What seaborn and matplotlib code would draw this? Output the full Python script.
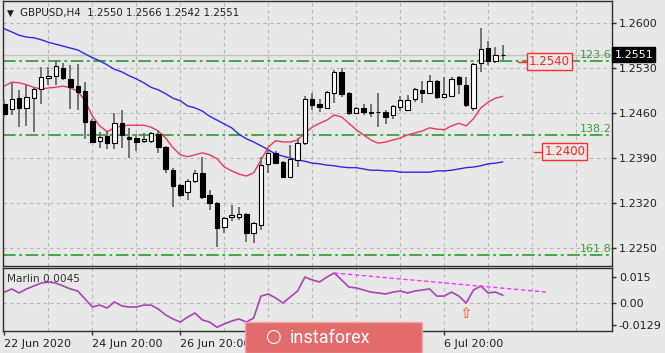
import numpy as np
import pandas as pd
import seaborn as sns
import matplotlib.pyplot as plt
from matplotlib.patches import Rectangle
from matplotlib.transforms import blended_transform_factory

sns.set_theme(style="white")
plt.rcParams['font.family'] = ['DejaVu Sans']

# GBPUSD H4 candles
opens = [1.2474, 1.2466, 1.2483, 1.2468, 1.2483, 1.2497, 1.2514, 1.2518, 1.2530, 1.2513,
         1.2502, 1.2494, 1.2448, 1.2417, 1.2424, 1.2413, 1.2444, 1.2423, 1.2421, 1.2417,
         1.2417, 1.2427, 1.2407, 1.2371, 1.2348, 1.2337, 1.2354, 1.2367, 1.2333, 1.2320,
         1.2283, 1.2298, 1.2298, 1.2303, 1.2273, 1.2286, 1.2381, 1.2398, 1.2384, 1.2361,
         1.2387, 1.2413, 1.2482, 1.2474, 1.2468, 1.2491, 1.2524, 1.2491, 1.2460, 1.2468,
         1.2462, 1.2462, 1.2462, 1.2457, 1.2469, 1.2465, 1.2482, 1.2496, 1.2491, 1.2510,
         1.2485, 1.2486, 1.2516, 1.2504, 1.2468, 1.2538, 1.2561, 1.2541, 1.2550]
highs = [1.2480, 1.2507, 1.2496, 1.2504, 1.2499, 1.2532, 1.2532, 1.2542, 1.2538, 1.2535,
         1.2536, 1.2508, 1.2451, 1.2431, 1.2431, 1.2460, 1.2465, 1.2437, 1.2427, 1.2429,
         1.2431, 1.2434, 1.2408, 1.2375, 1.2349, 1.2357, 1.2371, 1.2392, 1.2340, 1.2322,
         1.2298, 1.2317, 1.2314, 1.2304, 1.2290, 1.2392, 1.2404, 1.2401, 1.2385, 1.2410,
         1.2421, 1.2486, 1.2491, 1.2482, 1.2494, 1.2527, 1.2530, 1.2492, 1.2469, 1.2474,
         1.2474, 1.2491, 1.2465, 1.2472, 1.2486, 1.2488, 1.2499, 1.2510, 1.2519, 1.2511,
         1.2516, 1.2516, 1.2517, 1.2516, 1.2538, 1.2592, 1.2572, 1.2563, 1.2566]
lows = [1.2454, 1.2457, 1.2438, 1.2440, 1.2431, 1.2474, 1.2504, 1.2504, 1.2511, 1.2466,
        1.2465, 1.2420, 1.2413, 1.2406, 1.2404, 1.2404, 1.2406, 1.2390, 1.2401, 1.2413,
        1.2413, 1.2398, 1.2367, 1.2314, 1.2329, 1.2325, 1.2351, 1.2327, 1.2309, 1.2252,
        1.2273, 1.2292, 1.2294, 1.2259, 1.2258, 1.2278, 1.2367, 1.2382, 1.2361, 1.2359,
        1.2376, 1.2410, 1.2465, 1.2462, 1.2466, 1.2476, 1.2485, 1.2457, 1.2458, 1.2457,
        1.2454, 1.2438, 1.2443, 1.2451, 1.2463, 1.2463, 1.2477, 1.2476, 1.2491, 1.2482,
        1.2483, 1.2485, 1.2490, 1.2469, 1.2463, 1.2524, 1.2535, 1.2538, 1.2542]
closes = [1.2458, 1.2482, 1.2468, 1.2485, 1.2497, 1.2516, 1.2518, 1.2533, 1.2514, 1.2500,
          1.2493, 1.2446, 1.2415, 1.2423, 1.2413, 1.2444, 1.2426, 1.2420, 1.2415, 1.2420,
          1.2429, 1.2407, 1.2373, 1.2347, 1.2333, 1.2354, 1.2367, 1.2329, 1.2320, 1.2281,
          1.2297, 1.2301, 1.2303, 1.2273, 1.2289, 1.2379, 1.2398, 1.2382, 1.2361, 1.2389,
          1.2413, 1.2482, 1.2472, 1.2469, 1.2493, 1.2524, 1.2490, 1.2460, 1.2468, 1.2462,
          1.2460, 1.2461, 1.2454, 1.2471, 1.2480, 1.2480, 1.2497, 1.2491, 1.2510, 1.2485,
          1.2490, 1.2513, 1.2505, 1.2472, 1.2536, 1.2560, 1.2541, 1.2550, 1.2551]

# moving averages (red fast, blue slow)
ma_fast = [1.2502, 1.2508, 1.2507, 1.2504, 1.2500, 1.2497, 1.2499, 1.2500, 1.2502, 1.2499,
           1.2494, 1.2479, 1.2455, 1.2440, 1.2431, 1.2437, 1.2440, 1.2441, 1.2441, 1.2441,
           1.2438, 1.2432, 1.2421, 1.2406, 1.2395, 1.2392, 1.2395, 1.2398, 1.2395, 1.2389,
           1.2376, 1.2370, 1.2365, 1.2362, 1.2367, 1.2387, 1.2407, 1.2417, 1.2415, 1.2415,
           1.2418, 1.2429, 1.2438, 1.2444, 1.2449, 1.2457, 1.2454, 1.2444, 1.2434, 1.2426,
           1.2418, 1.2413, 1.2415, 1.2418, 1.2421, 1.2426, 1.2429, 1.2432, 1.2437, 1.2435,
           1.2434, 1.2440, 1.2444, 1.2440, 1.2451, 1.2468, 1.2477, 1.2483, 1.2486]
ma_slow = [1.2591, 1.2586, 1.2581, 1.2578, 1.2577, 1.2574, 1.2570, 1.2567, 1.2564, 1.2561,
           1.2558, 1.2552, 1.2546, 1.2541, 1.2535, 1.2528, 1.2524, 1.2518, 1.2513, 1.2507,
           1.2500, 1.2496, 1.2490, 1.2483, 1.2479, 1.2471, 1.2468, 1.2463, 1.2455, 1.2449,
           1.2443, 1.2437, 1.2427, 1.2420, 1.2415, 1.2409, 1.2403, 1.2396, 1.2393, 1.2390,
           1.2387, 1.2385, 1.2382, 1.2381, 1.2379, 1.2378, 1.2376, 1.2375, 1.2375, 1.2373,
           1.2371, 1.2371, 1.2370, 1.2370, 1.2368, 1.2368, 1.2368, 1.2368, 1.2368, 1.2370,
           1.2370, 1.2371, 1.2373, 1.2375, 1.2376, 1.2378, 1.2381, 1.2382, 1.2384]

# Marlin oscillator
marlin = [0.0063, 0.0081, 0.0058, 0.0081, 0.0098, 0.0115, 0.0121, 0.0115, 0.0098, 0.0081,
          0.0069, 0.0023, -0.0023, -0.0012, -0.0029, 0.0006, -0.0017, -0.0023, -0.0023, -0.0012,
          -0.0012, -0.0035, -0.0069, -0.0092, -0.0110, -0.0081, -0.0058, -0.0098, -0.0110, -0.0140,
          -0.0121, -0.0104, -0.0092, -0.0110, -0.0087, 0.0040, 0.0052, 0.0029, 0.0000, 0.0035,
          0.0069, 0.0150, 0.0133, 0.0121, 0.0150, 0.0173, 0.0133, 0.0092, 0.0087, 0.0075,
          0.0063, 0.0058, 0.0052, 0.0063, 0.0069, 0.0058, 0.0069, 0.0075, 0.0081, 0.0040,
          0.0040, 0.0063, 0.0040, 0.0000, 0.0075, 0.0098, 0.0058, 0.0063, 0.0045]

fib_levels = [1.2541, 1.2426, 1.2239]
fib_labels = ["123.6", "138.2", "161.8"]
target_prices = [1.2540, 1.2400]
target_labels = ["1.2540", "1.2400"]
target_bars = [70.1, 72.2]
price_ticks = [1.2600, 1.2530, 1.2460, 1.2390, 1.2320, 1.2250]
marlin_ticks = [0.015, 0.0, -0.0129]
marlin_tick_labels = ["0.015", "0.00", "-0.0129"]
# labels at bars 36 and 48 sit under the logo in the reference
date_pos = [0, 12, 24, 36, 48, 60]
date_labels = ["22 Jun 2020", "24 Jun 20:00", "26 Jun 20:00", "", "", "6 Jul 20:00"]
grid_bars = list(range(6, 79, 6))
trend_bars = [45, 74]
trend_vals = [0.0173, 0.0063]
arrow_bar = 63
arrow_val = -0.0060
last_price = 1.2551
title = "GBPUSD,H4  1.2550 1.2566 1.2542 1.2551"

df = pd.DataFrame({'open': opens, 'high': highs, 'low': lows, 'close': closes,
                   'ma_fast': ma_fast, 'ma_slow': ma_slow, 'marlin': marlin})
df['bar'] = np.arange(len(df))

W, H = 665, 353
bg = '#e8e8e8'
fig = plt.figure(figsize=(W / 100, H / 100), dpi=100)
fig.patch.set_facecolor(bg)


def px_box(l, t, r, b):
    return [l / W, 1 - b / H, (r - l) / W, (b - t) / H]


ax = fig.add_axes(px_box(3, 1, 612, 266))
ax2 = fig.add_axes(px_box(3, 268, 612, 331))
xlim = (-0.2, 82.9)

for a in (ax, ax2):
    a.set_facecolor(bg)
    a.set_xlim(*xlim)
    for s in a.spines.values():
        s.set_color('#303030')
        s.set_linewidth(1)
    for g in grid_bars:
        a.axvline(g, color='#b5b5b5', ls=(0, (3, 3)), lw=0.8, zorder=0)
    a.yaxis.tick_right()

# Main panel
ax.set_ylim(1.22221, 1.26342)
for p in price_ticks:
    ax.axhline(p, color='#b5b5b5', ls=(0, (3, 3)), lw=0.8, zorder=0)
ax.axhline(last_price, color='#c4c4c4', lw=1, zorder=1)

for lvl, lab in zip(fib_levels, fib_labels):
    ax.axhline(lvl, color='#36a336', ls=(0, (7, 2, 1.5, 2)), lw=1.3, zorder=1)
    ax.text(82.8, lvl + 0.0001, lab, ha='right', va='bottom', color='#3c9c3c', fontsize=8)

sns.lineplot(data=df, x='bar', y='ma_slow', ax=ax, color='#2a2ae8', lw=1, zorder=2)
sns.lineplot(data=df, x='bar', y='ma_fast', ax=ax, color='#e63a5c', lw=1, zorder=2)

up = df['close'] >= df['open']
ax.vlines(df['bar'], df['low'], df['high'], color='#6a6a6a', lw=1.3, zorder=3)
body_lo = np.minimum(df['open'], df['close'])
body_h = np.maximum(np.abs(df['close'] - df['open']), 0.00006)
ax.bar(df['bar'], body_h, bottom=body_lo, width=0.6,
       color=np.where(up, 'white', 'black'), edgecolor='black', lw=0.8, zorder=4)

for p, lab, b in zip(target_prices, target_labels, target_bars):
    ax.plot([b, b + 1.3], [p, p], color='#ff2a2a', lw=1, zorder=5)
    ax.text(b + 1.45, p, lab, ha='left', va='center', color='#ff2020', fontsize=8.5, zorder=5,
            bbox=dict(boxstyle='square,pad=0.15', fc=bg, ec='#ff2a2a', lw=1))

ax.set_yticks(price_ticks)
ax.set_yticklabels([f"{p:.4f}" for p in price_ticks])
ax.tick_params(axis='y', right=True, length=3, width=1, color='#303030', pad=2,
               labelsize=8, labelcolor='#202020')
ax.set_xticks([])
ax.set_xlabel('')
ax.set_ylabel('')

tr = blended_transform_factory(ax.transAxes, ax.transData)
ax.text(1.004, last_price, f"{last_price:.4f}", transform=tr, ha='left', va='center',
        color='white', fontsize=8, clip_on=False, zorder=6,
        bbox=dict(boxstyle='square,pad=0.2', fc='black', ec='black'))

ax.text(0.006, 0.955, "\u25bc", transform=ax.transAxes, fontsize=6.5, color='#202020',
        ha='left', va='center')
ax.text(0.028, 0.955, title, transform=ax.transAxes, fontsize=7.4, color='#202020',
        ha='left', va='center')

# Marlin panel
ax2.set_ylim(-0.01616, 0.0202)
ax2.axhline(0.0, color='#b5b5b5', ls=(0, (3, 3)), lw=0.8, zorder=0)
sns.lineplot(data=df, x='bar', y='marlin', ax=ax2, color='#a844b4', lw=1.2, zorder=2)
ax2.plot(trend_bars, trend_vals, color='#ff30ff', ls=(0, (3, 2)), lw=1, zorder=2)
ax2.text(arrow_bar, arrow_val, "\u21e7", ha='center', va='center', color='#ff4a2a',
         fontsize=11, zorder=3)
ax2.text(0.006, 0.82, "Marlin 0.0045", transform=ax2.transAxes, fontsize=7.6,
         color='#303030', ha='left', va='center')
ax2.set_yticks(marlin_ticks)
ax2.set_yticklabels(marlin_tick_labels)
ax2.tick_params(axis='y', right=True, length=3, width=1, color='#303030', pad=2,
                labelsize=8, labelcolor='#202020')
ax2.set_xticks(date_pos)
ax2.set_xticklabels(date_labels, ha='left')
ax2.tick_params(axis='x', bottom=True, length=3, width=1, color='#303030', pad=3,
                labelsize=8, labelcolor='#202020')
ax2.set_xlabel('')
ax2.set_ylabel('')

# instaforex badge
fig.patches.append(Rectangle((245 / W, 0), (422 - 245) / W, (353 - 322) / H,
                             transform=fig.transFigure, fc='#e26c6c', ec='#f0a8a8', lw=1,
                             zorder=10))
fig.text(273 / W, 1 - 337 / H, "\u25cb", color='white', fontsize=13, ha='center',
         va='center', zorder=11, fontweight='bold')
fig.text(290 / W, 1 - 338 / H, "instaforex", color='white', fontsize=13, ha='left',
         va='center', zorder=11, family=['Roboto', 'DejaVu Sans'])

fig.savefig("out.png", dpi=100, facecolor=bg)
